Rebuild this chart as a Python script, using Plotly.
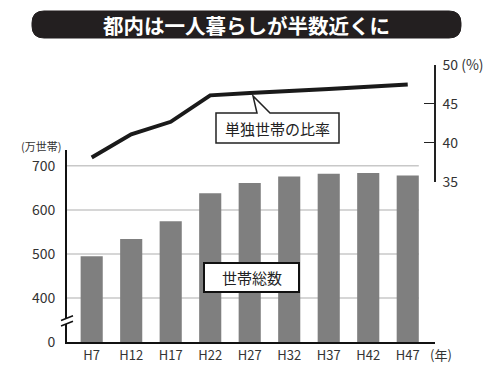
import plotly.graph_objects as go

# ---- data ----
categories = ["H7", "H12", "H17", "H22", "H27", "H32", "H37", "H42", "H47"]
households = [495, 534, 574, 638, 661, 676, 682, 684, 678]          # 万世帯
single_ratio = [38.1, 41.1, 42.7, 46.1, 46.4, 46.6, 46.9, 47.2, 47.5]  # %
left_tickvals = [300, 400, 500, 600, 700]
left_ticktext = ["0", "400", "500", "600", "700"]
right_tickvals = [35, 40, 45, 50]
right_ticktext = ["35", "40", "45", "50 (%)"]

FONT = "Noto Sans CJK JP"
OFF = 8  # page body margin
W, H = 500 - OFF, 376 - OFF
ML, MR, MT, MB = 67 - OFF, 65, 60 - OFF, 34
PW, PH = W - ML - MR, H - MT - MB

def px(x):
    return (x - OFF - ML) / PW

def py(y):
    return (H - MB - (y - OFF)) / PH

xs = list(range(len(categories)))
bar_w = 0.56
x_range = [-0.625, 8.69]

fig = go.Figure()
fig.add_trace(go.Bar(x=xs, y=households, width=bar_w, marker=dict(color="#7f7f7f", line=dict(width=0)),
                     yaxis="y", showlegend=False))
fig.add_trace(go.Scatter(x=xs, y=single_ratio, mode="lines", line=dict(color="#1a1a1a", width=4),
                         yaxis="y2", showlegend=False))

shapes = []
# gridlines (end at last bar's right edge)
for v in [400, 500, 600, 700]:
    shapes.append(dict(type="line", xref="x", yref="y", x0=x_range[0], x1=xs[-1] + bar_w / 2,
                       y0=v, y1=v, line=dict(color="#c8c8c8", width=1.5), layer="below"))

def P(x, y):
    return f"{px(x):.5f},{py(y):.5f}"

# title pill
x0, x1, y0, y1, r = 32, 461, 11, 38, 12
title_path = (f"M {P(x0 + r, y0)} L {P(x1 - r, y0)} Q {P(x1, y0)} {P(x1, y0 + r)} "
              f"L {P(x1, y1 - r)} Q {P(x1, y1)} {P(x1 - r, y1)} L {P(x0 + r, y1)} "
              f"Q {P(x0, y1)} {P(x0, y1 - r)} L {P(x0, y0 + r)} Q {P(x0, y0)} {P(x0 + r, y0)} Z")
shapes.append(dict(type="path", xref="paper", yref="paper", path=title_path,
                   fillcolor="#231f20", line=dict(color="#231f20", width=1), layer="above"))

# callout box for ratio label
callout = (f"M {P(216, 113)} L {P(257, 113)} L {P(253, 96)} L {P(270, 113)} L {P(339, 113)} "
           f"L {P(339, 143)} L {P(216, 143)} Z")
shapes.append(dict(type="path", xref="paper", yref="paper", path=callout,
                   fillcolor="white", line=dict(color="#222", width=1.5), layer="above"))

# box for total households
shapes.append(dict(type="rect", xref="paper", yref="paper", x0=px(204), x1=px(299), y0=py(292), y1=py(263),
                   fillcolor="white", line=dict(color="#111", width=2), layer="above"))

# axis break marks
brk = f"M {P(61.5, 320.5)} L {P(72.5, 316)} L {P(72.5, 321.5)} L {P(61.5, 326)} Z"
shapes.append(dict(type="path", xref="paper", yref="paper", path=brk, fillcolor="white",
                   line=dict(width=0), layer="above"))
shapes.append(dict(type="line", xref="paper", yref="paper", x0=px(61), y0=py(320.5), x1=px(73), y1=py(315.7),
                   line=dict(color="#111", width=1.5), layer="above"))
shapes.append(dict(type="line", xref="paper", yref="paper", x0=px(61), y0=py(326), x1=px(73), y1=py(321.3),
                   line=dict(color="#111", width=1.5), layer="above"))

annotations = [
    dict(text="<b>都内は一人暮らしが半数近くに</b>", x=px(246.5), y=py(24.5), xref="paper", yref="paper",
         showarrow=False, font=dict(family=FONT, size=20.5, color="white"), xanchor="center", yanchor="middle"),
    dict(text="単独世帯の比率", x=px(277.5), y=py(128.5), xref="paper", yref="paper", showarrow=False,
         font=dict(family=FONT, size=15, color="#222"), xanchor="center", yanchor="middle"),
    dict(text="世帯総数", x=px(251.5), y=py(277.5), xref="paper", yref="paper", showarrow=False,
         font=dict(family=FONT, size=15, color="#222"), xanchor="center", yanchor="middle"),
    dict(text="(万世帯)", x=px(41), y=py(146), xref="paper", yref="paper", showarrow=False,
         font=dict(family=FONT, size=11, color="#333"), xanchor="center", yanchor="middle"),
    dict(text="(年)", x=px(441), y=py(354), xref="paper", yref="paper", showarrow=False,
         font=dict(family=FONT, size=13, color="#333"), xanchor="center", yanchor="middle"),
]

fig.update_layout(
    width=W, height=H, margin=dict(l=ML, r=MR, t=MT, b=MB),
    paper_bgcolor="white", plot_bgcolor="rgba(0,0,0,0)",
    font=dict(family=FONT, color="#333"),
    xaxis=dict(range=x_range, tickvals=xs, ticktext=categories, showgrid=False, zeroline=False,
               showline=True, linecolor="#111", linewidth=2, ticks="", anchor="y",
               tickfont=dict(size=13, color="#333"), fixedrange=True),
    yaxis=dict(domain=[0, py(150)], range=[300, 736], tickvals=left_tickvals, ticktext=left_ticktext,
               showgrid=False, zeroline=False, showline=True, linecolor="#111", linewidth=2,
               ticks="", ticklabelstandoff=7, tickfont=dict(size=14, color="#333")),
    yaxis2=dict(domain=[py(181.7), py(65)], range=[35, 50], tickvals=right_tickvals, ticktext=right_ticktext,
                anchor="free", position=1, side="right", showgrid=False, zeroline=False,
                showline=True, linecolor="#222", linewidth=1.5, ticks="inside", ticklen=10,
                tickcolor="#222", tickwidth=1.2, ticklabelstandoff=4, tickfont=dict(size=14, color="#333")),
    shapes=shapes, annotations=annotations,
)

fig.write_html("out.html")
